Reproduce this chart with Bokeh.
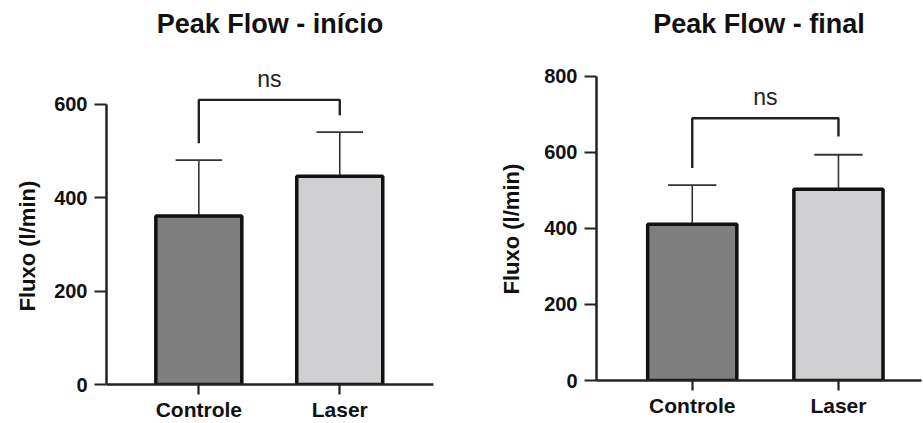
from bokeh.plotting import figure
from bokeh.layouts import row
from bokeh.models import Range1d, FixedTicker, ColumnDataSource, Title
from bokeh.embed import file_html
from bokeh.resources import INLINE
from bokeh.core.properties import value

categories = ["Controle", "Laser"]
titles = ["Peak Flow - início", "Peak Flow - final"]
y_label = "Fluxo (l/min)"
sig_label = "ns"

inicio_mean = [361, 446]
inicio_sd = [120, 95]
final_mean = [411, 503]
final_sd = [103, 91]

inicio_ticks = [0, 200, 400, 600]
final_ticks = [0, 200, 400, 600, 800]

# significance bracket: [bar level, left leg end, right leg end], label height
inicio_bracket = [610, 517, 577]
final_bracket = [690, 559, 642]
inicio_label_y = 655
final_label_y = 745

bar_colors = ["#7f7f7f", "#d0d0d2"]

FONT = "Liberation Sans"
CAP_HALF = 0.165
X_START = -0.655


def make_panel(title, means, sds, ticks, bracket, label_y, y_end, x_end,
               frame_w, frame_h, min_left, min_right, min_top, min_bottom,
               ylabel_offset, ylabel_standoff):
    p = figure(x_range=Range1d(X_START, x_end), y_range=Range1d(0, y_end),
               frame_width=frame_w, frame_height=frame_h,
               min_border_left=min_left, min_border_right=min_right,
               min_border_top=min_top, min_border_bottom=min_bottom,
               output_backend="svg", toolbar_location=None)
    p.outline_line_color = None
    p.xgrid.visible = False
    p.ygrid.visible = False

    p.title.text = title
    p.title.align = "center"
    p.title.text_font = FONT
    p.title.text_font_size = "27px"
    p.title.text_font_style = "bold"
    p.title.text_color = "#111111"

    xs = list(range(len(categories)))
    tops = [m + s for m, s in zip(means, sds)]
    src = ColumnDataSource(dict(x=xs, top=means, color=bar_colors, etop=tops,
                                cx0=[x - CAP_HALF for x in xs],
                                cx1=[x + CAP_HALF for x in xs]))

    # error bars (upper only)
    p.segment(x0="x", y0="top", x1="x", y1="etop", source=src,
              line_color="#333333", line_width=1.6)
    p.segment(x0="cx0", y0="etop", x1="cx1", y1="etop", source=src,
              line_color="#333333", line_width=1.8)
    # bars
    p.vbar(x="x", top="top", bottom=0, width=0.61, source=src,
           fill_color="color", line_color="#111111", line_width=3.5)

    # significance bracket
    level, left_end, right_end = bracket
    p.line(x=[xs[0], xs[0], xs[1], xs[1]],
           y=[left_end, level, level, right_end],
           line_color="#222222", line_width=2.4)
    p.text(x=[(xs[0] + xs[1]) / 2], y=[label_y], text=[sig_label],
           text_align="center", text_baseline="middle",
           text_font=value(FONT), text_font_size="23px",
           text_color="#222222")

    # axes
    p.xaxis.ticker = FixedTicker(ticks=xs)
    p.xaxis.major_label_overrides = {i: c for i, c in enumerate(categories)}
    p.yaxis.ticker = FixedTicker(ticks=ticks)
    p.yaxis.bounds = (ticks[0], ticks[-1])
    for ax in (p.xaxis[0], p.yaxis[0]):
        ax.axis_line_width = 2.5
        ax.axis_line_color = "#222222"
        ax.major_tick_line_width = 2.2
        ax.major_tick_line_color = "#222222"
        ax.major_tick_in = 0
        ax.minor_tick_line_color = None
        ax.major_label_text_font = FONT
        ax.major_label_text_font_style = "bold"
        ax.major_label_text_color = "#111111"
    p.xaxis.major_tick_out = 10
    p.xaxis.major_label_standoff = 3
    p.xaxis.major_label_text_font_size = "21px"
    p.yaxis.major_tick_out = 12
    p.yaxis.major_label_standoff = 7
    p.yaxis.major_label_text_font_size = "20px"

    # y-axis title, placed along the drawn part of the axis
    yl = Title(text=y_label, align="left", offset=ylabel_offset,
               standoff=ylabel_standoff,
               text_font=FONT, text_font_size="22px",
               text_font_style="bold", text_color="#111111")
    p.add_layout(yl, "left")
    return p


p1 = make_panel(titles[0], inicio_mean, inicio_sd, inicio_ticks,
                inicio_bracket, inicio_label_y, 730.7, 1.665,
                327, 341, 106, 45, 43, 39, 73, 24)
p2 = make_panel(titles[1], final_mean, final_sd, final_ticks,
                final_bracket, final_label_y, 886.8, 1.568,
                325, 337, 118, 1, 43, 43, 86, 36)

layout = row(p1, p2)
open("out.html", "w").write(file_html(layout, INLINE))
